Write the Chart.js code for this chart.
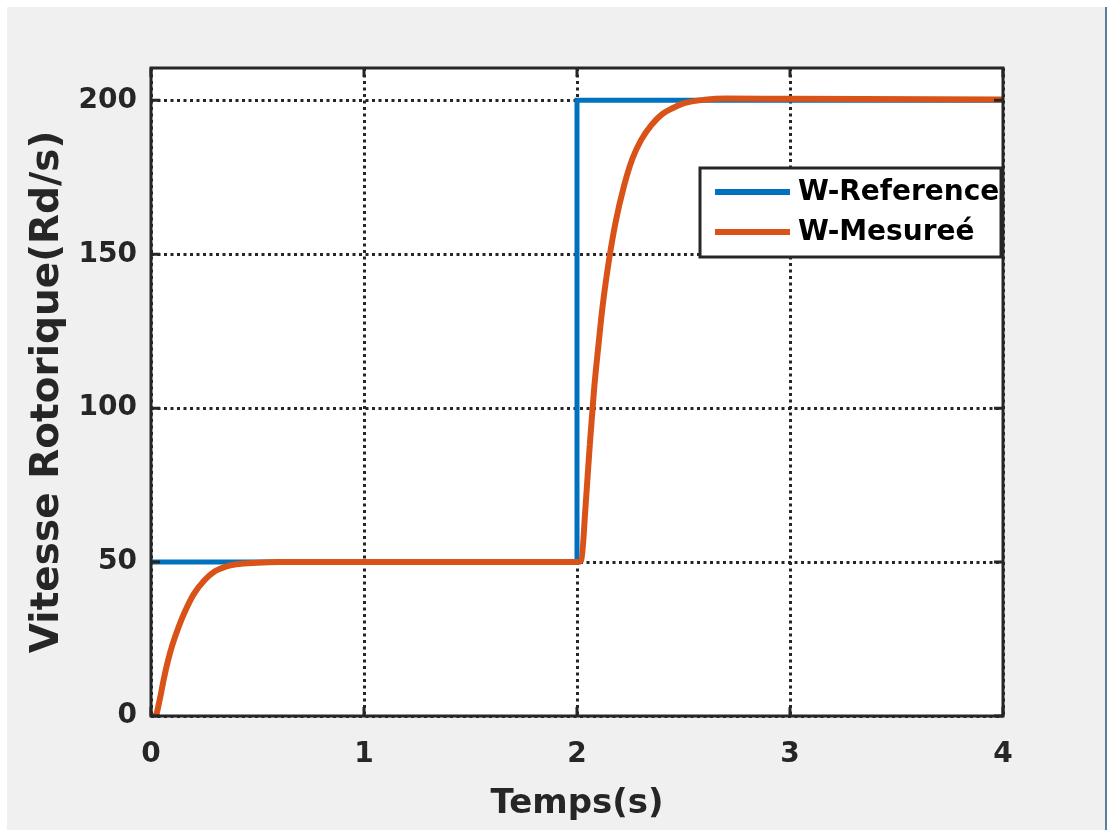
<!DOCTYPE html>
<html>
<head>
<meta charset="utf-8">
<script src="https://cdn.jsdelivr.net/npm/chart.js@4/dist/chart.umd.min.js"></script>
<style>
    body { margin: 0; background: #ffffff; }
    #frame { position: absolute; left: 7px; top: 7px; width: 1098px; height: 823px; background: #f0f0f0; border-right: 2px solid #5b7f9e; }
    #speedChart { position: absolute; left: 0; top: 0; }
</style>
</head>
<body>
<div id="frame"></div>
<canvas id="speedChart" width="1109" height="830"></canvas>
<script>
// speed reference (step at t = 2 s)
const timeRef = [0, 2, 2, 4];
const speedRef = [50, 50, 200, 200];

// measured rotor speed
const timeMes = [0, 0.02, 0.04, 0.06, 0.08, 0.10, 0.13, 0.16, 0.20, 0.25, 0.30, 0.35, 0.40, 0.50, 0.60, 1.0, 2.0,
    2.02, 2.04, 2.06, 2.08, 2.10, 2.12, 2.15, 2.18, 2.22, 2.26, 2.30, 2.35, 2.40, 2.45, 2.50, 2.60, 2.70, 3.0, 4.0];
const speedMes = [0, 0, 5, 12, 18, 23, 29, 34, 39.5, 44, 47, 48.5, 49.3, 49.8, 50, 50, 50,
    50.5, 68, 88, 106, 120, 133, 148, 160, 172, 181, 187, 192, 195.5, 197.5, 199, 200.2, 200.6, 200.5, 200.3];

const xTicks = [0, 1, 2, 3, 4];
const yTicks = [0, 50, 100, 150, 200];

const seriesNames = ['W-Reference', 'W-Mesureé'];
const seriesColors = ['#0072BD', '#D95319'];

const axisColor = '#262626';
const fontFamily = '"DejaVu Sans", sans-serif';

function toPoints(xs, ys) {
    return xs.map((x, i) => ({ x: x, y: ys[i] }));
}

// white plot background, box with inward ticks, and a boxed legend
const frameBox = {
    id: 'frameBox',
    beforeDraw(chart) {
        const a = chart.chartArea;
        const ctx = chart.ctx;
        ctx.save();
        ctx.fillStyle = '#ffffff';
        ctx.fillRect(a.left, a.top, a.right - a.left, a.bottom - a.top);
        ctx.restore();
    },
    afterDatasetsDraw(chart) {
        const a = chart.chartArea;
        const ctx = chart.ctx;
        const xs = chart.scales.x;
        const ys = chart.scales.y;
        const tl = 9;
        ctx.save();
        ctx.strokeStyle = axisColor;
        ctx.lineWidth = 3;
        ctx.beginPath();
        xTicks.forEach(v => {
            const px = xs.getPixelForValue(v);
            ctx.moveTo(px, a.bottom); ctx.lineTo(px, a.bottom - tl);
            ctx.moveTo(px, a.top); ctx.lineTo(px, a.top + tl);
        });
        yTicks.forEach(v => {
            const py = ys.getPixelForValue(v);
            ctx.moveTo(a.left, py); ctx.lineTo(a.left + tl, py);
            ctx.moveTo(a.right, py); ctx.lineTo(a.right - tl, py);
        });
        ctx.stroke();
        ctx.lineWidth = 3;
        ctx.strokeRect(a.left, a.top, a.right - a.left, a.bottom - a.top);

        // legend
        const lx = 700, ly = 168, lw = 301, lh = 89;
        ctx.fillStyle = '#ffffff';
        ctx.fillRect(lx, ly, lw, lh);
        ctx.lineWidth = 3;
        ctx.strokeRect(lx, ly, lw, lh);
        ctx.font = 'bold 28px ' + fontFamily;
        ctx.textBaseline = 'middle';
        ctx.textAlign = 'left';
        chart.data.datasets.forEach((ds, i) => {
            const y = 192 + i * 40;
            ctx.strokeStyle = ds.borderColor;
            ctx.lineWidth = 6;
            ctx.beginPath();
            ctx.moveTo(715, y);
            ctx.lineTo(790, y);
            ctx.stroke();
            ctx.fillStyle = '#000000';
            ctx.fillText(ds.label, 798, y + 1);
        });
        ctx.restore();
    }
};

new Chart(document.getElementById('speedChart'), {
    type: 'line',
    data: {
        datasets: [
            {
                label: seriesNames[0],
                data: toPoints(timeRef, speedRef),
                borderColor: seriesColors[0],
                borderWidth: 5,
                pointRadius: 0,
                tension: 0,
                order: 1
            },
            {
                label: seriesNames[1],
                data: toPoints(timeMes, speedMes),
                borderColor: seriesColors[1],
                borderWidth: 6,
                pointRadius: 0,
                cubicInterpolationMode: 'monotone',
                order: 0
            }
        ]
    },
    options: {
        responsive: false,
        animation: false,
        layout: { padding: { left: 0, top: 68, right: 106, bottom: 0 } },
        plugins: {
            legend: { display: false },
            tooltip: { enabled: false }
        },
        scales: {
            x: {
                type: 'linear',
                min: 0,
                max: 4,
                afterFit(scale) { scale.height = 114; },
                afterBuildTicks(scale) { scale.ticks = xTicks.map(v => ({ value: v })); },
                grid: { color: axisColor, lineWidth: 3, drawTicks: false },
                border: { display: false, dash: [3, 3.5] },
                ticks: {
                    padding: 22,
                    color: '#262626',
                    font: { family: fontFamily, size: 28, weight: 'bold' }
                },
                title: {
                    display: true,
                    text: 'Temps(s)',
                    color: '#262626',
                    padding: { top: 0, bottom: 5 },
                    font: { family: fontFamily, size: 34, weight: 'bold' }
                }
            },
            y: {
                type: 'linear',
                min: 0,
                max: 210.5,
                afterFit(scale) { scale.width = 151; },
                afterBuildTicks(scale) { scale.ticks = yTicks.map(v => ({ value: v })); },
                grid: { color: axisColor, lineWidth: 3, drawTicks: false },
                border: { display: false, dash: [3, 3.5] },
                ticks: {
                    padding: 14,
                    color: '#262626',
                    font: { family: fontFamily, size: 28, weight: 'bold' }
                },
                title: {
                    display: true,
                    text: 'Vitesse Rotorique(Rd/s)',
                    color: '#262626',
                    padding: { top: 24, bottom: 0 },
                    font: { family: fontFamily, size: 39, weight: 'bold' }
                }
            }
        }
    },
    plugins: [frameBox]
});
</script>
</body>
</html>
